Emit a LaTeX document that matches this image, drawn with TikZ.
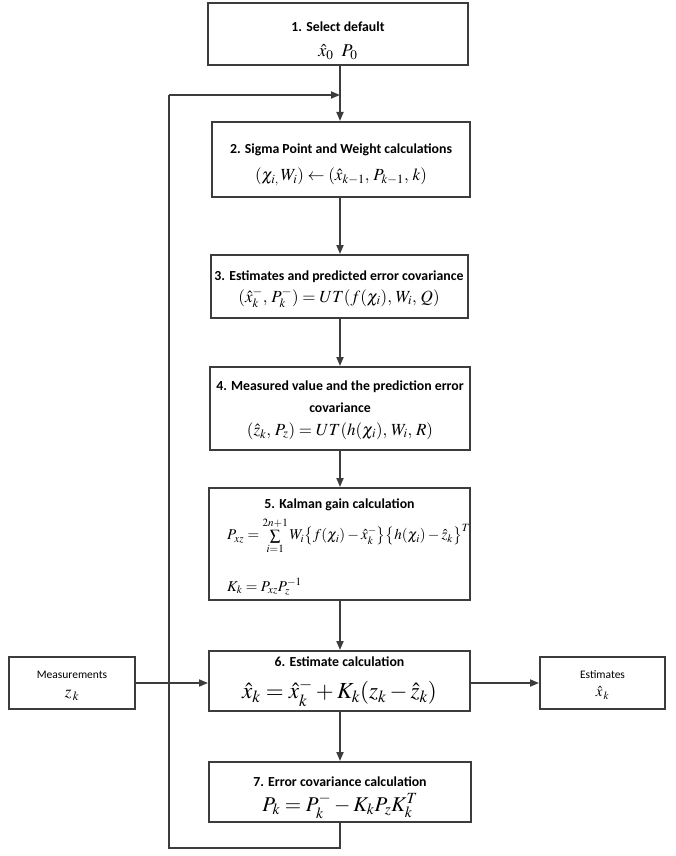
\documentclass[tikz,border=0pt]{standalone}
\usepackage{mathptmx}
\usepackage[no-math]{fontspec}
\setmainfont{Carlito}
\usetikzlibrary{arrows.meta}
\definecolor{ln}{HTML}{3C3C3C}
\begin{document}
\begin{tikzpicture}[x=1pt,y=-1pt,
  box/.style={draw=ln, line width=2pt, fill=white, inner sep=0pt},
  flow/.style={draw=ln, line width=1.8pt, -{Triangle[length=9pt,width=7pt]}},
  plainline/.style={draw=ln, line width=1.8pt},
  ttl/.style={font=\bfseries\fontsize{13.8}{16}\selectfont, inner sep=0pt, text=black},
  lbl/.style={font=\fontsize{11.5}{13}\selectfont, inner sep=0pt, text=black},
  fm/.style={inner sep=0pt, text=black}
]
\useasboundingbox (0,0) rectangle (676,856);
% boxes
\node[box, minimum width=260pt, minimum height=62pt] (b1) at (338,34) {};
\node[box, minimum width=258pt, minimum height=75pt] (b2) at (341,159.5) {};
\node[box, minimum width=257pt, minimum height=63pt] (b3) at (339,286.5) {};
\node[box, minimum width=260pt, minimum height=83pt] (b4) at (340,408.5) {};
\node[box, minimum width=261pt, minimum height=112pt] (b5) at (339.5,544) {};
\node[box, minimum width=261pt, minimum height=60pt] (b6) at (339.5,681) {};
\node[box, minimum width=262pt, minimum height=60pt] (b7) at (340,792) {};
\node[box, minimum width=126pt, minimum height=52pt] (bm) at (72,683) {};
\node[box, minimum width=125pt, minimum height=52pt] (be) at (602.5,683) {};
% texts
\node[ttl] (t1) at (338,27) {1. Select default};
\node[fm, font=\fontsize{18}{20}\selectfont] (f1) at (338,52) {$\hat{x}_{0}\;\;P_{0}$};
\node[ttl] (t2) at (341,150) {2. Sigma Point and Weight calculations};
\node[fm, font=\fontsize{17}{20}\selectfont] (f2) at (341,177) {$(\chi_{i,}\,W_{i})\leftarrow(\hat{x}_{k-1},\,P_{k-1},\,k)$};
\node[ttl] (t3) at (339,277) {3. Estimates and predicted error covariance};
\node[fm, font=\fontsize{17}{20}\selectfont] (f3) at (339,298) {$(\hat{x}_{k}^{-},\,P_{k}^{-})=UT(f(\chi_{i}),\,W_{i},\,Q)$};
\node[ttl] (t4a) at (340,387) {4. Measured value and the prediction error};
\node[ttl] (t4b) at (340,408) {covariance};
\node[fm, font=\fontsize{17}{20}\selectfont] (f4) at (340,431) {$(\hat{z}_{k},\,P_{z})=UT(h(\chi_{i}),\,W_{i},\,R)$};
\node[ttl] (t5) at (339.5,505) {5. Kalman gain calculation};
\node[fm, font=\fontsize{15}{18}\selectfont, anchor=west] (f5a) at (227,536) {$P_{xz}=\sum\limits_{i=1}^{2n+1}W_{i}\bigl\{f(\chi_{i})-\hat{x}_{k}^{-}\bigr\}\bigl\{h(\chi_{i})-\hat{z}_{k}\bigr\}^{T}$};
\node[fm, font=\fontsize{15}{18}\selectfont, anchor=west] (f5b) at (227,587) {$K_{k}=P_{xz}P_{z}^{-1}$};
\node[ttl] (t6) at (339.5,662) {6. Estimate calculation};
\node[fm, font=\fontsize{23}{27}\selectfont] (f6) at (339.5,693) {$\hat{x}_{k}=\hat{x}_{k}^{-}+K_{k}(z_{k}-\hat{z}_{k})$};
\node[ttl] (t7) at (340,782) {7. Error covariance calculation};
\node[fm, font=\fontsize{21}{25}\selectfont] (f7) at (340,806) {$P_{k}=P_{k}^{-}-K_{k}P_{z}K_{k}^{T}$};
\node[lbl] (tm) at (72,675) {Measurements};
\node[fm, font=\fontsize{17}{20}\selectfont] (fm1) at (72,695) {$z_{\,k}$};
\node[lbl] (te) at (602.5,675) {Estimates};
\node[fm, font=\fontsize{15}{18}\selectfont] (fe) at (602.5,693) {$\hat{x}_{\,k}$};
% connectors
\coordinate (j1) at (340,95);
\coordinate (l1) at (340,848);
\coordinate (l2) at (169,848);
\coordinate (l3) at (169,95);
\coordinate (cm) at (169,683);
\draw[flow] (b1.south -| j1) -- (b2.north -| j1);
\draw[flow] (b2.south -| j1) -- (b3.north -| j1);
\draw[flow] (b3.south -| j1) -- (b4.north -| j1);
\draw[flow] (b4.south -| j1) -- (b5.north -| j1);
\draw[flow] (b5.south -| j1) -- (b6.north -| j1);
\draw[flow] (b6.south -| j1) -- (b7.north -| j1);
\draw[plainline] (b7.south -| j1) -- (l1) -- (l2) -- (l3);
\draw[flow] (l3) -- (j1);
\draw[flow] (bm.east) -- (b6.west |- bm.east);
\draw[flow] (b6.east |- be.west) -- (be.west);
\fill[ln] (cm) circle (1.6pt);
\end{tikzpicture}
\end{document}
